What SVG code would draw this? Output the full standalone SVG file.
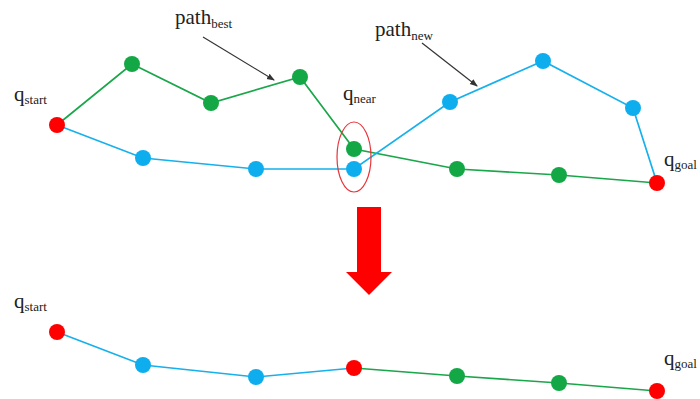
<svg xmlns="http://www.w3.org/2000/svg" width="700" height="399" viewBox="0 0 700 399">
<defs>
<style>
.g{stroke:#1aa64a;stroke-width:1.7;fill:none}
.b{stroke:#16b0ec;stroke-width:1.7;fill:none}
.ng{fill:#13a845}
.nb{fill:#0eaeee}
.nr{fill:#ff0000}
.t{font-family:"Liberation Serif","Times New Roman",serif;fill:#222}
.m{font-size:21px}
.s{font-size:13px}
.lead{stroke:#333;stroke-width:1.2;fill:none}
</style>
<marker id="ah" markerWidth="8" markerHeight="8" refX="7" refY="4" orient="auto" markerUnits="userSpaceOnUse">
<path d="M0,1 L8,4 L0,7 Z" fill="#333"/>
</marker>
</defs>
<rect width="700" height="399" fill="#fff"/>
<g id="connectors">
<polyline class="g" points="57,125 132,64 211,103 300,77 354,149 457,169 559,175 657,183"/>
<polyline class="b" points="57,125 143,158 256,169 354,169 450,102 543,61 633,108 657,183"/>
<polyline class="b" points="57,332 143,365 256,377 354,368"/>
<polyline class="g" points="354,368 457,376 559,383 657,391"/>
<line class="lead" x1="203" y1="37" x2="274" y2="80" marker-end="url(#ah)"/>
<line class="lead" x1="422" y1="43" x2="477" y2="86" marker-end="url(#ah)"/>
</g>
<g id="near-ellipse"><ellipse cx="354" cy="157" rx="17" ry="35" fill="none" stroke="#e8343a" stroke-width="1.2"/></g>
<g id="top-start"><circle class="nr" cx="57" cy="125" r="8"/></g>
<g id="top-g1"><circle class="ng" cx="132" cy="64" r="8"/></g>
<g id="top-g2"><circle class="ng" cx="211" cy="103" r="8"/></g>
<g id="top-g3"><circle class="ng" cx="300" cy="77" r="8"/></g>
<g id="top-near-g"><circle class="ng" cx="354" cy="149" r="8"/></g>
<g id="top-g5"><circle class="ng" cx="457" cy="169" r="8"/></g>
<g id="top-g6"><circle class="ng" cx="559" cy="175" r="8"/></g>
<g id="top-goal"><circle class="nr" cx="657" cy="183" r="8"/></g>
<g id="top-b1"><circle class="nb" cx="143" cy="158" r="8"/></g>
<g id="top-b2"><circle class="nb" cx="256" cy="169" r="8"/></g>
<g id="top-near-b"><circle class="nb" cx="354" cy="169" r="8"/></g>
<g id="top-b4"><circle class="nb" cx="450" cy="102" r="8"/></g>
<g id="top-b5"><circle class="nb" cx="543" cy="61" r="8"/></g>
<g id="top-b6"><circle class="nb" cx="633" cy="108" r="8"/></g>
<g id="bot-start"><circle class="nr" cx="57" cy="332" r="8"/></g>
<g id="bot-b1"><circle class="nb" cx="143" cy="365" r="8"/></g>
<g id="bot-b2"><circle class="nb" cx="256" cy="377" r="8"/></g>
<g id="bot-near"><circle class="nr" cx="354" cy="368" r="8"/></g>
<g id="bot-g1"><circle class="ng" cx="457" cy="376" r="8"/></g>
<g id="bot-g2"><circle class="ng" cx="559" cy="383" r="8"/></g>
<g id="bot-goal"><circle class="nr" cx="657" cy="391" r="8"/></g>
<g id="red-arrow"><polygon points="357,207 381,207 381,272 392,272 369,295 346,272 357,272" fill="#ff0000"/></g>
<g id="labels">
<text class="t m" x="14" y="101">q<tspan class="s" dy="3">start</tspan></text>
<text class="t m" x="175" y="24">path<tspan class="s" dy="4">best</tspan></text>
<text class="t m" x="375" y="36">path<tspan class="s" dy="4">new</tspan></text>
<text class="t m" x="343" y="100">q<tspan class="s" dy="3">near</tspan></text>
<text class="t m" x="664" y="166">q<tspan class="s" dy="3">goal</tspan></text>
<text class="t m" x="14" y="308">q<tspan class="s" dy="3">start</tspan></text>
<text class="t m" x="664" y="365">q<tspan class="s" dy="3">goal</tspan></text>
</g>
</svg>
